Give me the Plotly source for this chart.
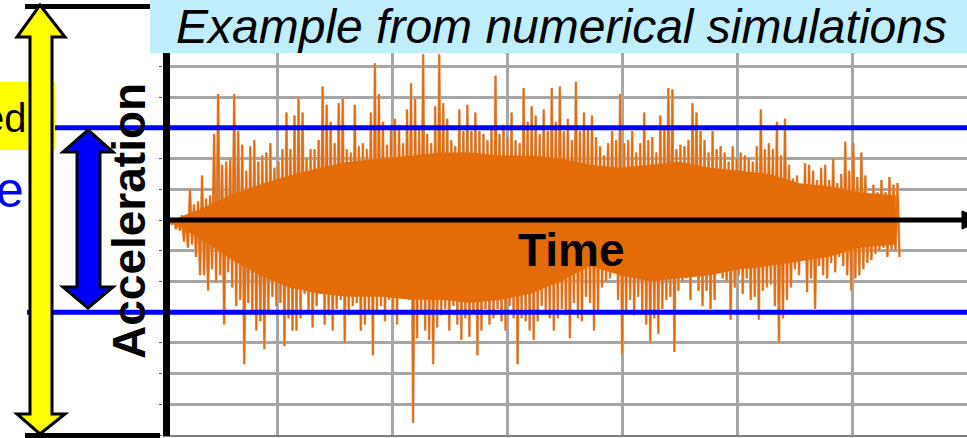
import plotly.graph_objects as go

# ---------------- data ----------------
# acceleration record: successive positive / negative peaks (grid units), one pair per sample step
start_time = 0.3      # s
sample_step = 0.175   # s
up_peaks = [
    0.0, 0.05, 0.0, 0.15, 0.1, 1.0, 0.5, 0.6, 1.45, 0.7, 0.8, 2.8, 4.1, 1.8, 1.9, 2.0, 4.1, 2.9, 2.45, 1.6,
    2.4, 2.6, 1.9, 2.1, 2.2, 2.5, 1.7, 1.9, 2.3, 3.5,
    2.3, 3.4, 4.0, 3.5, 2.0, 2.3, 2.3, 2.6, 4.35, 3.75, 3.2, 2.5, 3.8, 3.95, 2.3, 2.2, 3.75, 2.4, 2.5, 2.3,
    3.5, 5.1, 4.1, 3.2, 2.45, 3.1, 3.3, 3.1, 2.5, 3.6, 4.45,
    3.95, 3.0, 5.4, 2.8, 2.5, 3.7, 5.4, 3.8, 3.3, 2.6, 2.4, 3.6, 2.9, 3.75, 2.9, 3.5, 2.9, 2.8, 2.6, 3.0,
    4.7, 2.8, 3.1, 2.7, 3.5, 2.6, 2.5, 4.3, 3.2, 3.7, 3.4,
    2.8, 3.6, 2.9, 4.3, 3.2, 4.35, 2.9, 3.3, 2.6, 4.5, 2.9, 3.5, 3.0, 3.4, 2.7, 2.4, 2.1, 2.5, 2.9, 2.6,
    4.1, 2.5, 2.6, 2.9, 2.2, 2.5, 3.5, 2.6, 2.7, 2.2, 3.4,
    3.0, 4.3, 4.25, 2.3, 2.45, 2.4, 2.6, 3.8, 3.5, 2.9, 2.6, 2.2, 2.9, 2.3, 2.4, 2.2, 1.9, 2.4, 2.0, 2.2,
    2.1, 2.0, 1.9, 2.4, 3.6, 2.3, 2.5, 2.3, 3.2, 2.1, 3.3,
    1.8, 1.35, 1.45, 1.15, 1.85, 1.8, 1.6, 1.3, 1.7, 1.8, 1.3, 2.0, 1.2, 1.5, 2.55, 1.6, 2.5, 1.4, 2.2, 1.45,
    0.8, 1.15, 0.9, 1.3, 0.9, 1.4, 1.15, 1.2,
]
down_peaks = [
    -0.15, -0.3, -0.35, -0.7, -0.9, -0.8, -1.2, -1.8, -1.8, -2.3, -1.6, -2.0, -1.8, -3.4, -1.7, -2.2, -2.8, -2.6, -4.7, -2.7,
    -3.0, -3.6, -3.3, -4.2, -3.0, -2.5, -2.8, -2.7, -4.1, -3.2,
    -3.6, -3.6, -3.2, -2.4, -3.0, -3.5, -2.8, -2.0, -3.4, -3.1, -3.6, -2.9, -2.6, -4.0, -3.1, -2.8, -2.7, -3.6, -3.4, -3.0,
    -4.4, -3.0, -2.8, -3.3, -2.6, -3.0, -3.4, -2.4, -2.0, -2.6, -6.6,
    -3.85, -3.0, -3.6, -3.9, -4.7, -3.5, -3.1, -2.9, -3.6, -2.8, -3.4, -3.9, -3.2, -3.8, -3.0, -4.4, -3.6, -2.9, -3.4, -3.2,
    -2.9, -3.3, -3.6, -2.8, -3.2, -4.7, -3.2, -3.3, -3.6, -3.9, -3.3,
    -2.8, -3.0, -3.2, -3.6, -3.2, -2.9, -3.1, -3.85, -2.7, -3.2, -3.3, -2.5, -2.7, -3.6, -3.0, -2.2, -2.0, -1.9, -1.7, -2.6,
    -4.35, -3.0, -2.6, -3.1, -2.5, -3.0, -3.4, -4.0, -3.2, -3.7, -2.9,
    -2.6, -2.5, -4.3, -2.3, -2.0, -1.9, -2.6, -1.8, -2.3, -2.8, -2.3, -2.9, -2.6, -1.7, -1.9, -2.0, -3.25, -2.2, -1.8, -2.4,
    -1.9, -2.6, -2.5, -3.25, -2.3, -2.2, -2.1, -2.8, -4.0, -3.2, -2.6,
    -2.2, -1.6, -1.8, -1.3, -2.35, -1.9, -2.9, -1.5, -1.8, -1.9, -1.4, -1.7, -1.2, -1.5, -1.8, -2.3, -1.9, -1.8, -1.6, -1.4,
    -1.3, -1.1, -1.0, -0.9, -1.2, -0.95, -1.0, -1.2,
]
# solid core of the record (envelope of the dense oscillations)
core_times = [0.4, 1.6, 2.9, 4.2, 5.5, 6.8, 8.1, 9.5, 10.8, 12.1, 13.4, 14.7, 16.0, 17.3, 18.6, 19.9,
              21.2, 22.5, 23.8, 25.1, 26.4, 27.7, 29.0, 30.3, 31.9]
core_upper = [0.0, 0.35, 0.8, 1.15, 1.45, 1.7, 1.9, 2.0, 2.1, 2.2, 2.2, 2.1, 2.1, 2.0, 1.8, 1.7,
              1.8, 1.9, 1.7, 1.6, 1.5, 1.2, 1.1, 0.9, 0.8]
core_lower = [-0.1, -0.6, -1.25, -1.8, -2.2, -2.4, -2.5, -2.5, -2.6, -2.6, -2.7, -2.6, -2.4, -2.0, -1.5, -1.8,
              -2.0, -1.9, -1.8, -1.6, -1.5, -1.35, -1.2, -0.9, -0.8]
limit_level = 3.0        # blue lines (+/-)
time_range = [0, 35]
acc_range = [-7, 7]

title_text = "Example from numerical simulations"
y_label = "Acceleration"
x_label = "Time"

# ---------------- layout helpers (pixel -> paper) ----------------
W_FIG, H_FIG = 967, 438
L, R, T, B = 163, 0, 5, 3
PW, PH = W_FIG - L - R, H_FIG - T - B


def px(x):
    return (x - L) / PW


def py(y):
    return (H_FIG - B - y) / PH


def path(points):
    return "M " + " L ".join(f"{px(x):.5f},{py(y):.5f}" for x, y in points) + " Z"


# ---------------- traces ----------------
xs, ys = [], []
for k, (u, d) in enumerate(zip(up_peaks, down_peaks)):
    t = start_time + k * sample_step
    xs += [t, t + sample_step / 2]
    ys += [u, d]

fig = go.Figure()
fig.add_trace(go.Scatter(x=xs, y=ys, mode="lines", line=dict(color="#DBA684", width=2.6), hoverinfo="skip"))
fig.add_trace(go.Scatter(x=xs, y=ys, mode="lines", line=dict(color="#E46C0A", width=1.6), hoverinfo="skip"))
fig.add_trace(go.Scatter(
    x=core_times + core_times[::-1], y=core_upper + core_lower[::-1],
    fill="toself", fillcolor="#E36C09", line=dict(width=0), mode="lines", hoverinfo="skip"))

shapes = []
# blue limit lines
for lv in (limit_level, -limit_level):
    shapes.append(dict(type="line", xref="paper", yref="y", x0=px(27), x1=px(980), y0=lv, y1=lv,
                       line=dict(color="#0000FF", width=5)))
# time axis with arrow
shapes.append(dict(type="line", xref="paper", yref="y", x0=px(166), x1=px(965), y0=0, y1=0,
                   line=dict(color="black", width=5)))
shapes.append(dict(type="path", xref="paper", yref="paper", path=path([(962, 211), (985, 220), (962, 229)]),
                   fillcolor="black", line=dict(color="black", width=1)))
# vertical axis bar
shapes.append(dict(type="line", xref="paper", yref="paper", x0=px(166.5), x1=px(166.5), y0=py(53), y1=py(436),
                   line=dict(color="black", width=7)))
# yellow label box
shapes.append(dict(type="rect", xref="paper", yref="paper", x0=px(-5), x1=px(55), y0=py(150), y1=py(82),
                   fillcolor="#FFFF00", line=dict(width=0)))
# black range lines
shapes.append(dict(type="line", xref="paper", yref="paper", x0=px(25), x1=px(150), y0=py(6.5), y1=py(6.5),
                   line=dict(color="black", width=5)))
shapes.append(dict(type="line", xref="paper", yref="paper", x0=px(25), x1=px(160), y0=py(435.5), y1=py(435.5),
                   line=dict(color="black", width=5)))
# yellow double arrow
shapes.append(dict(type="path", xref="paper", yref="paper",
                   path=path([(40, 5), (65, 37), (52, 37), (52, 414), (65, 414), (40, 434), (17, 414), (30, 414),
                              (30, 37), (17, 37)]),
                   fillcolor="#FFFF00", line=dict(color="black", width=3)))
# blue double arrow
shapes.append(dict(type="path", xref="paper", yref="paper",
                   path=path([(88, 130), (113, 152), (100, 152), (100, 287), (113, 287), (88, 308), (63, 287),
                              (77, 287), (77, 152), (63, 152)]),
                   fillcolor="#0000FF", line=dict(color="black", width=3)))
# title box
shapes.append(dict(type="rect", xref="paper", yref="paper", x0=px(150), x1=px(990), y0=py(53), y1=py(-5),
                   fillcolor="#C1EEFC", line=dict(width=0)))

annotations = [
    dict(text=title_text, xref="paper", yref="paper", x=px(561), y=py(27), xanchor="center", yanchor="middle",
         showarrow=False,
         font=dict(family="Liberation Sans, Arial, sans-serif", size=48, color="black", style="italic")),
    dict(text=f"<b>{y_label}</b>", xref="paper", yref="paper", x=px(129), y=py(221), xanchor="center",
         yanchor="middle", textangle=-90, showarrow=False,
         font=dict(family="Liberation Sans, Arial, sans-serif", size=46, color="black")),
    dict(text=f"<b>{x_label}</b>", xref="paper", yref="paper", x=px(571), y=py(250), xanchor="center",
         yanchor="middle", showarrow=False,
         font=dict(family="Liberation Sans, Arial, sans-serif", size=46, color="black")),
    dict(text="ed", xref="paper", yref="paper", x=px(29), y=py(118), xanchor="right", yanchor="middle",
         showarrow=False, font=dict(family="Liberation Sans, Arial, sans-serif", size=40, color="black")),
    dict(text="e", xref="paper", yref="paper", x=px(26), y=py(190), xanchor="right", yanchor="middle",
         showarrow=False, font=dict(family="Liberation Sans, Arial, sans-serif", size=50, color="#0000FF")),
]

fig.update_layout(
    width=W_FIG, height=H_FIG, margin=dict(l=L, r=R, t=T, b=B),
    paper_bgcolor="white", plot_bgcolor="white", showlegend=False,
    shapes=shapes, annotations=annotations,
    xaxis=dict(range=time_range, dtick=5, showgrid=True, gridcolor="#A6A6A6", gridwidth=2.5,
               showticklabels=False, zeroline=False, showline=True, linecolor="#7F7F7F", linewidth=2),
    yaxis=dict(range=acc_range, dtick=1, showgrid=True, gridcolor="#A6A6A6", gridwidth=2.5,
               showticklabels=False, zeroline=False, ticks="outside", ticklen=3, tickcolor="#555555"),
)

fig.write_html(
    "out.html",
    config={"displayModeBar": False},
    post_script="document.body.style.margin='0';document.body.style.overflow='hidden';"
                "document.documentElement.style.overflow='hidden';",
)
